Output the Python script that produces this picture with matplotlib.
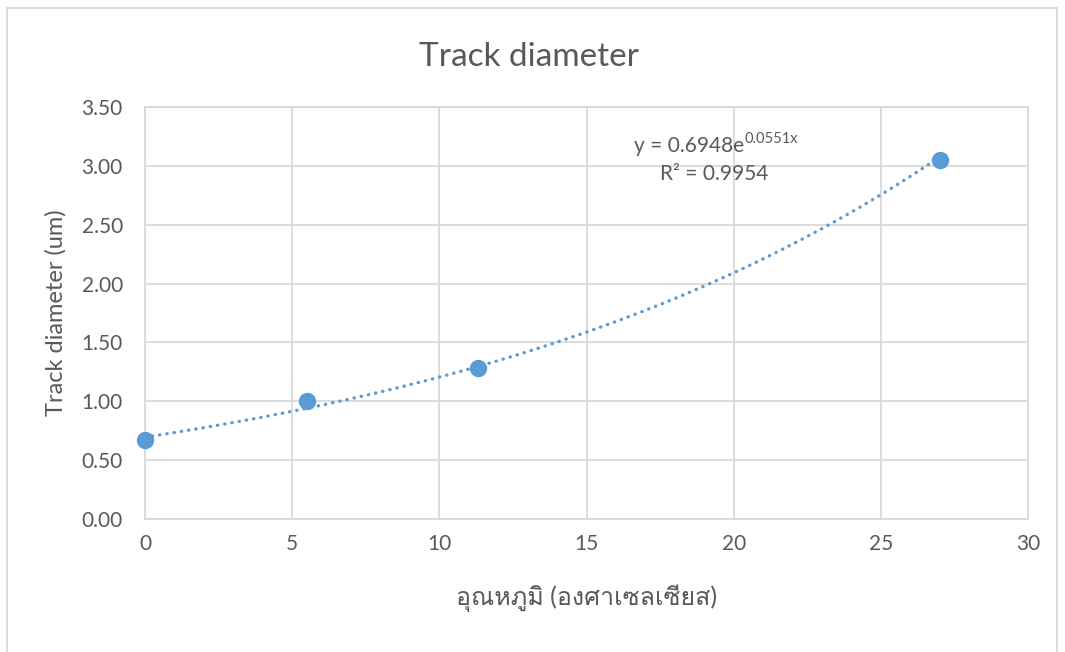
import numpy as np
import matplotlib
matplotlib.use("Agg")
import matplotlib.pyplot as plt
from matplotlib import font_manager
from matplotlib.ft2font import FT2Font

# measured temperature (deg C) vs track diameter (um)
temp_c = [0, 5.5, 11.3, 27]
diameter_um = [0.67, 1.00, 1.28, 3.05]

# exponential trendline y = a * exp(b x)
fit_a = 0.6948
fit_b = 0.0551
fit_r2 = 0.9954

x_ticks = [0, 5, 10, 15, 20, 25, 30]
y_ticks = [0.0, 0.5, 1.0, 1.5, 2.0, 2.5, 3.0, 3.5]

BLUE = '#5B9BD5'
GRID = '#D9D9D9'
TEXT = '#595959'


def thai_font():
  # find any installed font that has Thai glyphs
  for f in font_manager.fontManager.ttflist:
    try:
      if FT2Font(f.fname).get_char_index(ord('อ')):
        return f.name
    except Exception:
      pass
  return None


families = ['Lato']
thai = thai_font()
if thai:
  families.append(thai)
families.append('DejaVu Sans')
plt.rcParams['font.family'] = families

fig = plt.figure(figsize=(10.65, 6.52), dpi=100)
ax = fig.add_axes([0.1362, 0.2040, 0.9653 - 0.1362, 0.8359 - 0.2040])

# chart border
fig.add_artist(plt.Line2D([7 / 1065, 7 / 1065], [0, 1 - 8 / 652], transform=fig.transFigure, color=GRID, lw=1.3))
fig.add_artist(plt.Line2D([7 / 1065, 1057 / 1065], [1 - 8 / 652, 1 - 8 / 652], transform=fig.transFigure, color=GRID, lw=1.3))
fig.add_artist(plt.Line2D([1057 / 1065, 1057 / 1065], [0, 1 - 8 / 652], transform=fig.transFigure, color=GRID, lw=1.3))

xs = np.linspace(0, 27, 200)
ax.plot(xs, fit_a * np.exp(fit_b * xs), color=BLUE, lw=2.4, linestyle=(0, (0.1, 2.1)),
        dash_capstyle='round', zorder=2)
ax.plot(temp_c, diameter_um, 'o', color=BLUE, markersize=11.5, zorder=3, clip_on=False)

ax.set_xlim(0, 30)
ax.set_ylim(0, 3.5)
ax.set_xticks(x_ticks)
ax.set_yticks(y_ticks)
ax.set_yticklabels([f'{v:.2f}' for v in y_ticks])
ax.grid(True, color=GRID, lw=1.3)
ax.set_axisbelow(True)
for s in ax.spines.values():
  s.set_color(GRID)
  s.set_linewidth(1.3)
ax.tick_params(length=0, labelsize=15, labelcolor=TEXT)
ax.tick_params(axis='y', pad=16)
ax.tick_params(axis='x', pad=11)

ax.set_ylabel('Track diameter (um)', fontsize=17, color=TEXT, labelpad=11)
ax.set_xlabel('อุณหภูมิ (องศาเซลเซียส)', fontsize=18, color=TEXT, labelpad=22)
fig.text(0.497, 1 - 57 / 652, 'Track diameter', fontsize=24, color=TEXT, ha='center', va='center')

# trendline equation with superscript exponent
eq = ax.text(16.6, 3.12, 'y = %.4fe' % fit_a, fontsize=15, color=TEXT, va='baseline')
ax.annotate('%.4fx' % fit_b, xy=(1, 0), xycoords=eq, xytext=(0.5, 9), textcoords='offset points',
            fontsize=10.5, color=TEXT, va='baseline')
ax.text(17.5, 2.88, 'R² = %.4f' % fit_r2, fontsize=15, color=TEXT, va='baseline')

fig.savefig('out.png', dpi=100)
